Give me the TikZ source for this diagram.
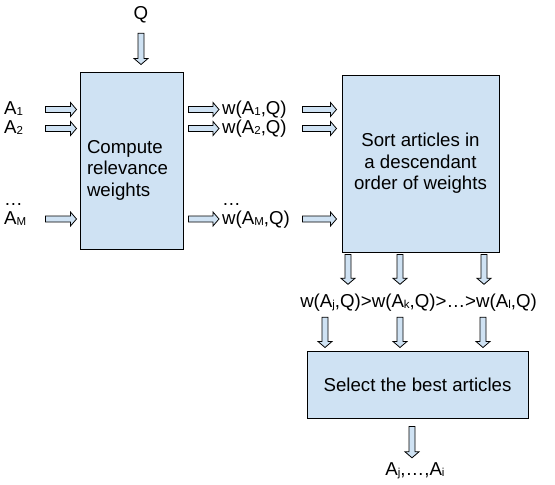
\documentclass[tikz,border=0pt]{standalone}
\usepackage{fontspec}
\setmainfont{Liberation Sans}
\usetikzlibrary{calc}

\definecolor{boxblue}{rgb}{0.81,0.886,0.953}
\newcommand{\lsub}[1]{\raisebox{-1pt}{\fontsize{11.5}{11.5}\selectfont #1}}

\tikzset{
  box/.style={draw, fill=boxblue, line width=1pt, inner sep=0pt},
  lbl/.style={inner sep=0pt, text height=13.5pt, text depth=3.5pt},
  fat/.style 2 args={draw, fill=boxblue, line width=0.8pt, line join=miter,
    to path={let \p1=($(\tikztostart)!#1!(\tikztotarget)$),
                 \p2=($(\tikztotarget)!#2!(\tikztostart)$) in
      ($(\p1)!3pt!90:(\p2)$) -- ($(\p2)!6pt!(\p1)!3pt!90:(\p2)$)
      -- ($(\p2)!6pt!(\p1)!7pt!90:(\p2)$) -- (\p2)
      -- ($(\p2)!6pt!(\p1)!7pt!-90:(\p2)$) -- ($(\p2)!6pt!(\p1)!3pt!-90:(\p2)$)
      -- ($(\p1)!3pt!-90:(\p2)$) -- cycle}}
}

\begin{document}
\begin{tikzpicture}[x=1pt,y=-1pt,font=\fontsize{18.67}{21.5}\selectfont]
\useasboundingbox (0,0) rectangle (555,485);

% boxes
\node [box,minimum width=103pt,minimum height=177pt,text width=89pt,align=left,text height=32pt] (comp) at (131.5,160.5) {Compute\\relevance\\weights};
\node [box,minimum width=157pt,minimum height=177pt,align=center] (sort) at (420.5,163.5) {Sort articles in\\a descendant\\order of weights};
\node [box,minimum width=221pt,minimum height=67pt] (sel) at (417.5,384.5) {Select the best articles};

% inputs
\node [lbl] (q) at (141,14) {Q};
\node [lbl,anchor=west,text width=26pt,align=left] (a1) at (4,109.5) {A\lsub{1}};
\node [lbl,anchor=west,text width=26pt,align=left] (a2) at (4,128.5) {A\lsub{2}};
\node [lbl,anchor=west,text width=26pt,align=left] (adots) at (4,200) {…};
\node [lbl,anchor=west,text width=26pt,align=left] (am) at (4,219) {A\lsub{M}};

\draw [fat={10.5pt}{7pt}] (q.south) to (q.south |- comp.north);
\foreach \lab in {a1,a2,am}
  \draw [fat={15pt}{3pt}] (\lab.east) to (\lab -| comp.west);

% weights
\node [lbl,anchor=west,text width=76pt,align=left] (w1) at (222,109.5) {w(A\lsub{1},Q)};
\node [lbl,anchor=west,text width=76pt,align=left] (w2) at (222,128.5) {w(A\lsub{2},Q)};
\node [lbl,anchor=west,text width=76pt,align=left] (wdots) at (222,200) {…};
\node [lbl,anchor=west,text width=76pt,align=left] (wm) at (222,219) {w(A\lsub{M},Q)};

\foreach \lab in {w1,w2,wm} {
  \draw [fat={5pt}{3pt}] (\lab -| comp.east) to (\lab.west);
  \draw [fat={4pt}{5pt}] (\lab.east) to (\lab -| sort.west);
}

% order and result
\node [lbl] (ord) at (418.5,302) {w(A\lsub{j},Q)>w(A\lsub{k},Q)>…>w(A\lsub{l},Q)};
\foreach \xpos in {348,400,484}
  \draw [fat={2pt}{9pt}] (sort.south -| \xpos,0) to (ord.north -| \xpos,0);
\foreach \xpos in {325,400,483}
  \draw [fat={6.5pt}{3pt}] (ord.south -| \xpos,0) to (sel.north -| \xpos,0);

\node [lbl] (res) at (415,470) {A\lsub{j},…,A\lsub{i}};
\draw [fat={8pt}{3.5pt}] (sel.south -| 412,0) to (res.north -| 412,0);
\end{tikzpicture}
\end{document}
